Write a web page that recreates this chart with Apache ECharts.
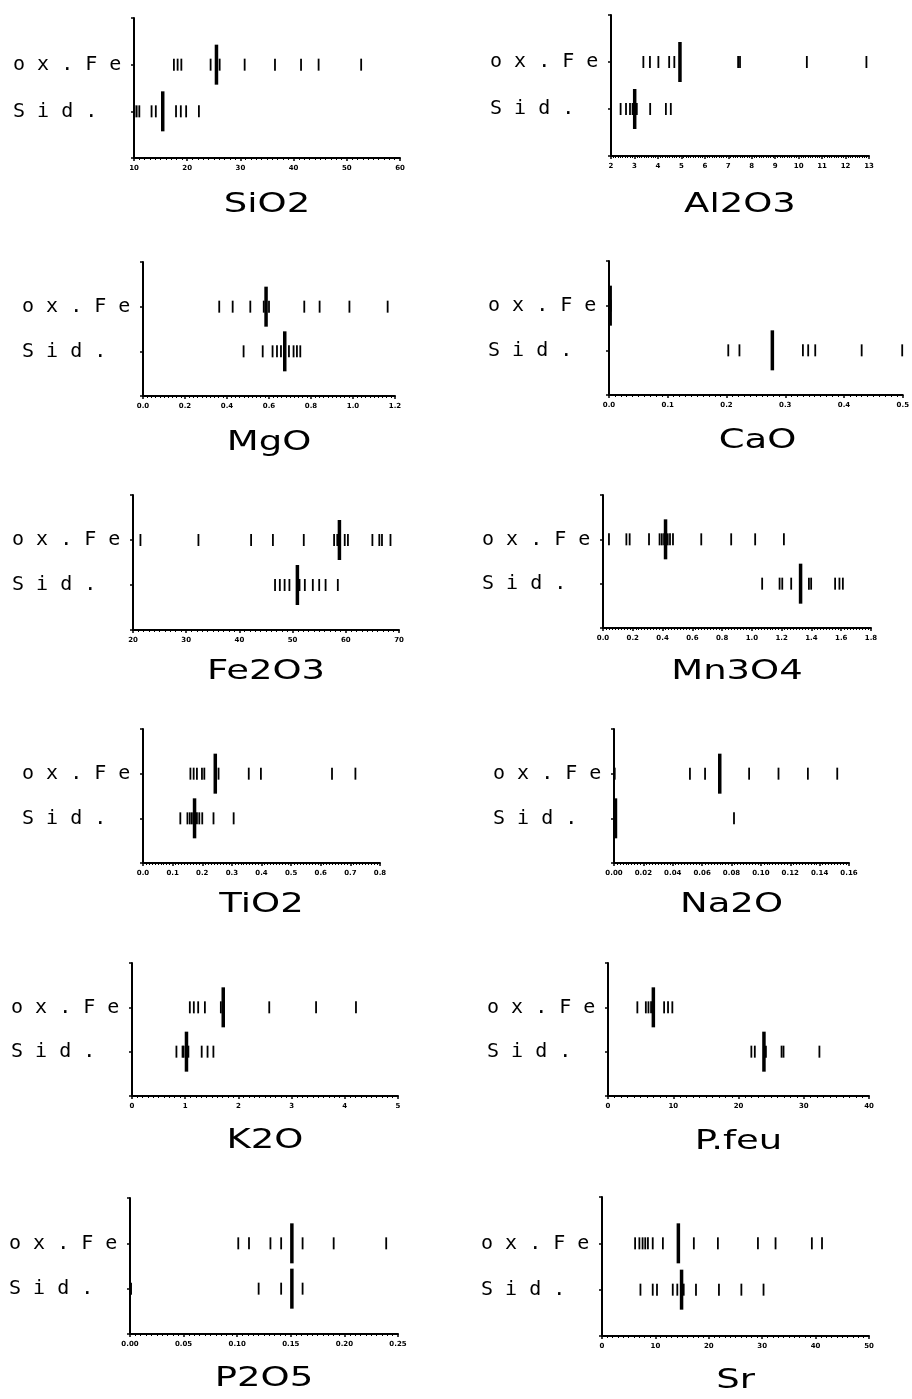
<!DOCTYPE html>
<html>
<head>
<meta charset="utf-8">
<script src="https://cdn.jsdelivr.net/npm/echarts@6/dist/echarts.min.js"></script>
<style>
  html, body { margin: 0; padding: 0; background: #fff; }
  #chart { width: 912px; height: 1399px; }
</style>
</head>
<body>
<div id="chart"></div>
<script>
// Row labels of every strip plot (ox.Fe drawn on the upper row, Sid. on the lower one)
const groupLabels = ['o x . F e', 'S i d .'];

// Oxide names, in reading order (left column, right column, row by row)
const oxides = ['SiO2', 'Al2O3', 'MgO', 'CaO', 'Fe2O3', 'Mn3O4', 'TiO2', 'Na2O', 'K2O', 'P.feu', 'P2O5', 'Sr'];

// Individual analyses per oxide; *_median = [ox.Fe, Sid.]; *_axis = [min, max, interval]
const SiO2_oxFe = [17.5, 18.2, 18.9, 24.4, 26.1, 30.8, 36.5, 41.4, 44.7, 52.7];
const SiO2_sid = [10.1, 10.5, 11.0, 13.3, 14.1, 17.9, 18.8, 19.8, 22.2];
const SiO2_median = [25.5, 15.4];
const SiO2_axis = [10, 60, 10];

const Al2O3_oxFe = [3.38, 3.66, 4.02, 4.48, 4.70, 7.42, 7.50, 10.35, 12.89];
const Al2O3_sid = [2.41, 2.64, 2.81, 2.92, 3.10, 3.67, 4.34, 4.55];
const Al2O3_median = [4.94, 3.01];
const Al2O3_axis = [2, 13, 1];

const MgO_oxFe = [0.363, 0.427, 0.511, 0.575, 0.600, 0.768, 0.841, 0.983, 1.165];
const MgO_sid = [0.479, 0.570, 0.617, 0.638, 0.657, 0.695, 0.717, 0.733, 0.749];
const MgO_median = [0.586, 0.675];
const MgO_axis = [0, 1.2, 0.2];

const CaO_oxFe = [0.000, 0.001, 0.002, 0.003];
const CaO_sid = [0.000, 0.203, 0.222, 0.330, 0.339, 0.351, 0.430, 0.499];
const CaO_median = [0.002, 0.278];
const CaO_axis = [0, 0.5, 0.1];

const Fe2O3_oxFe = [21.4, 32.3, 42.2, 46.3, 52.1, 57.8, 58.4, 59.8, 60.4, 65.0, 66.3, 66.8, 68.4];
const Fe2O3_sid = [46.7, 47.6, 48.5, 49.4, 51.3, 52.3, 53.8, 55.0, 56.2, 58.5];
const Fe2O3_median = [58.8, 50.9];
const Fe2O3_axis = [20, 70, 10];

const Mn3O4_oxFe = [0.04, 0.157, 0.179, 0.309, 0.38, 0.395, 0.41, 0.435, 0.45, 0.47, 0.66, 0.861, 1.022, 1.215];
const Mn3O4_sid = [1.069, 1.186, 1.204, 1.264, 1.383, 1.398, 1.559, 1.588, 1.611];
const Mn3O4_median = [0.42, 1.327];
const Mn3O4_axis = [0, 1.8, 0.2];

const TiO2_oxFe = [0.160, 0.171, 0.182, 0.199, 0.207, 0.255, 0.357, 0.398, 0.638, 0.717];
const TiO2_sid = [0.126, 0.150, 0.158, 0.165, 0.182, 0.190, 0.200, 0.238, 0.306];
const TiO2_median = [0.244, 0.174];
const TiO2_axis = [0, 0.8, 0.1];

const Na2O_oxFe = [0.000, 0.0005, 0.0517, 0.062, 0.092, 0.112, 0.132, 0.152];
const Na2O_sid = [0.000, 0.0005, 0.001, 0.0817];
const Na2O_median = [0.072, 0.001];
const Na2O_axis = [0, 0.16, 0.02];

const K2O_oxFe = [1.087, 1.162, 1.244, 1.37, 1.67, 2.58, 3.46, 4.21];
const K2O_sid = [0.835, 0.95, 0.97, 1.06, 1.31, 1.42, 1.53];
const K2O_median = [1.715, 1.024];
const K2O_axis = [0, 5, 1];

const Pfeu_oxFe = [4.5, 5.8, 6.2, 6.6, 8.6, 9.2, 9.86];
const Pfeu_sid = [21.97, 22.5, 24.2, 26.6, 26.9, 32.4];
const Pfeu_median = [6.95, 23.9];
const Pfeu_axis = [0, 40, 10];

const P2O5_oxFe = [0.101, 0.111, 0.131, 0.141, 0.161, 0.190, 0.239];
const P2O5_sid = [0.000, 0.001, 0.120, 0.141, 0.161];
const P2O5_median = [0.151, 0.151];
const P2O5_axis = [0, 0.25, 0.05];

const Sr_oxFe = [6.2, 7.0, 7.6, 8.1, 8.6, 9.5, 11.4, 17.2, 21.7, 29.2, 32.5, 39.3, 41.2];
const Sr_sid = [7.2, 9.5, 10.3, 13.25, 14.1, 15.3, 17.6, 21.9, 26.1, 30.25];
const Sr_median = [14.3, 14.9];
const Sr_axis = [0, 50, 10];

const panelData = [
  [SiO2_oxFe, SiO2_sid, SiO2_median, SiO2_axis],
  [Al2O3_oxFe, Al2O3_sid, Al2O3_median, Al2O3_axis],
  [MgO_oxFe, MgO_sid, MgO_median, MgO_axis],
  [CaO_oxFe, CaO_sid, CaO_median, CaO_axis],
  [Fe2O3_oxFe, Fe2O3_sid, Fe2O3_median, Fe2O3_axis],
  [Mn3O4_oxFe, Mn3O4_sid, Mn3O4_median, Mn3O4_axis],
  [TiO2_oxFe, TiO2_sid, TiO2_median, TiO2_axis],
  [Na2O_oxFe, Na2O_sid, Na2O_median, Na2O_axis],
  [K2O_oxFe, K2O_sid, K2O_median, K2O_axis],
  [Pfeu_oxFe, Pfeu_sid, Pfeu_median, Pfeu_axis],
  [P2O5_oxFe, P2O5_sid, P2O5_median, P2O5_axis],
  [Sr_oxFe, Sr_sid, Sr_median, Sr_axis]
];

// Plot boxes in pixels: [left, top, right, bottom, title centre y]
const boxes = [
  [134, 18, 400, 158, 205],
  [611, 15, 869, 156, 205],
  [143, 262, 395, 396, 443],
  [609, 261, 906, 395, 441],
  [133, 495, 399, 630, 672],
  [603, 495, 871, 628, 672],
  [143, 729, 380, 863, 905],
  [614, 729, 849, 863, 905],
  [132, 963, 398, 1096, 1141],
  [608, 963, 869, 1096, 1142],
  [130, 1198, 398, 1334, 1379],
  [602, 1197, 869, 1336, 1381]
];

const ink = '#000';
const grids = [], xAxes = [], yAxes = [], series = [], graphics = [];

oxides.forEach((name, i) => {
  const [ox, sid, med, ax] = panelData[i];
  const [l, t, r, b, ty] = boxes[i];
  const decimals = ax[2] >= 1 ? 0 : (ax[2] >= 0.1 ? 1 : 2);

  grids.push({ left: l, top: t, width: r - l, height: b - t });

  xAxes.push({
    type: 'value', gridIndex: i,
    min: ax[0], max: ax[1], interval: ax[2],
    axisLine: { show: true, onZero: false, lineStyle: { color: ink, width: 2 } },
    axisTick: { show: true, length: 3, lineStyle: { color: ink, width: 1.5 } },
    minorTick: { show: true, splitNumber: 10, length: 2, lineStyle: { color: ink, width: 1 } },
    splitLine: { show: false },
    axisLabel: {
      color: ink, fontSize: 7, fontWeight: 'bold', margin: 7,
      fontFamily: 'DejaVu Sans',
      formatter: v => Number(v).toFixed(decimals)
    }
  });

  yAxes.push({
    type: 'value', gridIndex: i, min: 0, max: 3, interval: 1,
    axisLine: { show: true, onZero: false, lineStyle: { color: ink, width: 2 } },
    axisTick: { show: true, length: 3, lineStyle: { color: ink, width: 1.5 } },
    splitLine: { show: false },
    axisLabel: {
      color: ink, fontSize: 20, fontFamily: 'DejaVu Sans Mono',
      align: 'left', margin: 121, padding: [5, 0, 0, 0],
      formatter: v => (v === 2 ? groupLabels[0] : (v === 1 ? groupLabels[1] : ''))
    }
  });

  // every analysis as a short vertical stroke
  series.push({
    type: 'scatter', xAxisIndex: i, yAxisIndex: i,
    symbol: 'rect', symbolSize: [1.8, 12], silent: true, clip: false,
    itemStyle: { color: ink, opacity: 1 },
    data: ox.map(v => [v, 2]).concat(sid.map(v => [v, 1]))
  });
  // median as a long heavy stroke
  series.push({
    type: 'scatter', xAxisIndex: i, yAxisIndex: i,
    symbol: 'rect', symbolSize: [3.5, 40], silent: true, clip: false,
    itemStyle: { color: ink, opacity: 1 },
    data: [[med[0], 2], [med[1], 1]]
  });

  graphics.push({
    type: 'text', x: (l + r) / 2, y: ty, scaleX: 1.37, silent: true,
    style: {
      text: name, fill: ink, font: '27px "DejaVu Sans"',
      textAlign: 'center', textVerticalAlign: 'middle'
    }
  });
});

const chart = echarts.init(document.getElementById('chart'), null, { renderer: 'canvas' });
chart.setOption({
  animation: false,
  backgroundColor: '#fff',
  grid: grids,
  xAxis: xAxes,
  yAxis: yAxes,
  series: series,
  graphic: graphics
});
</script>
</body>
</html>
